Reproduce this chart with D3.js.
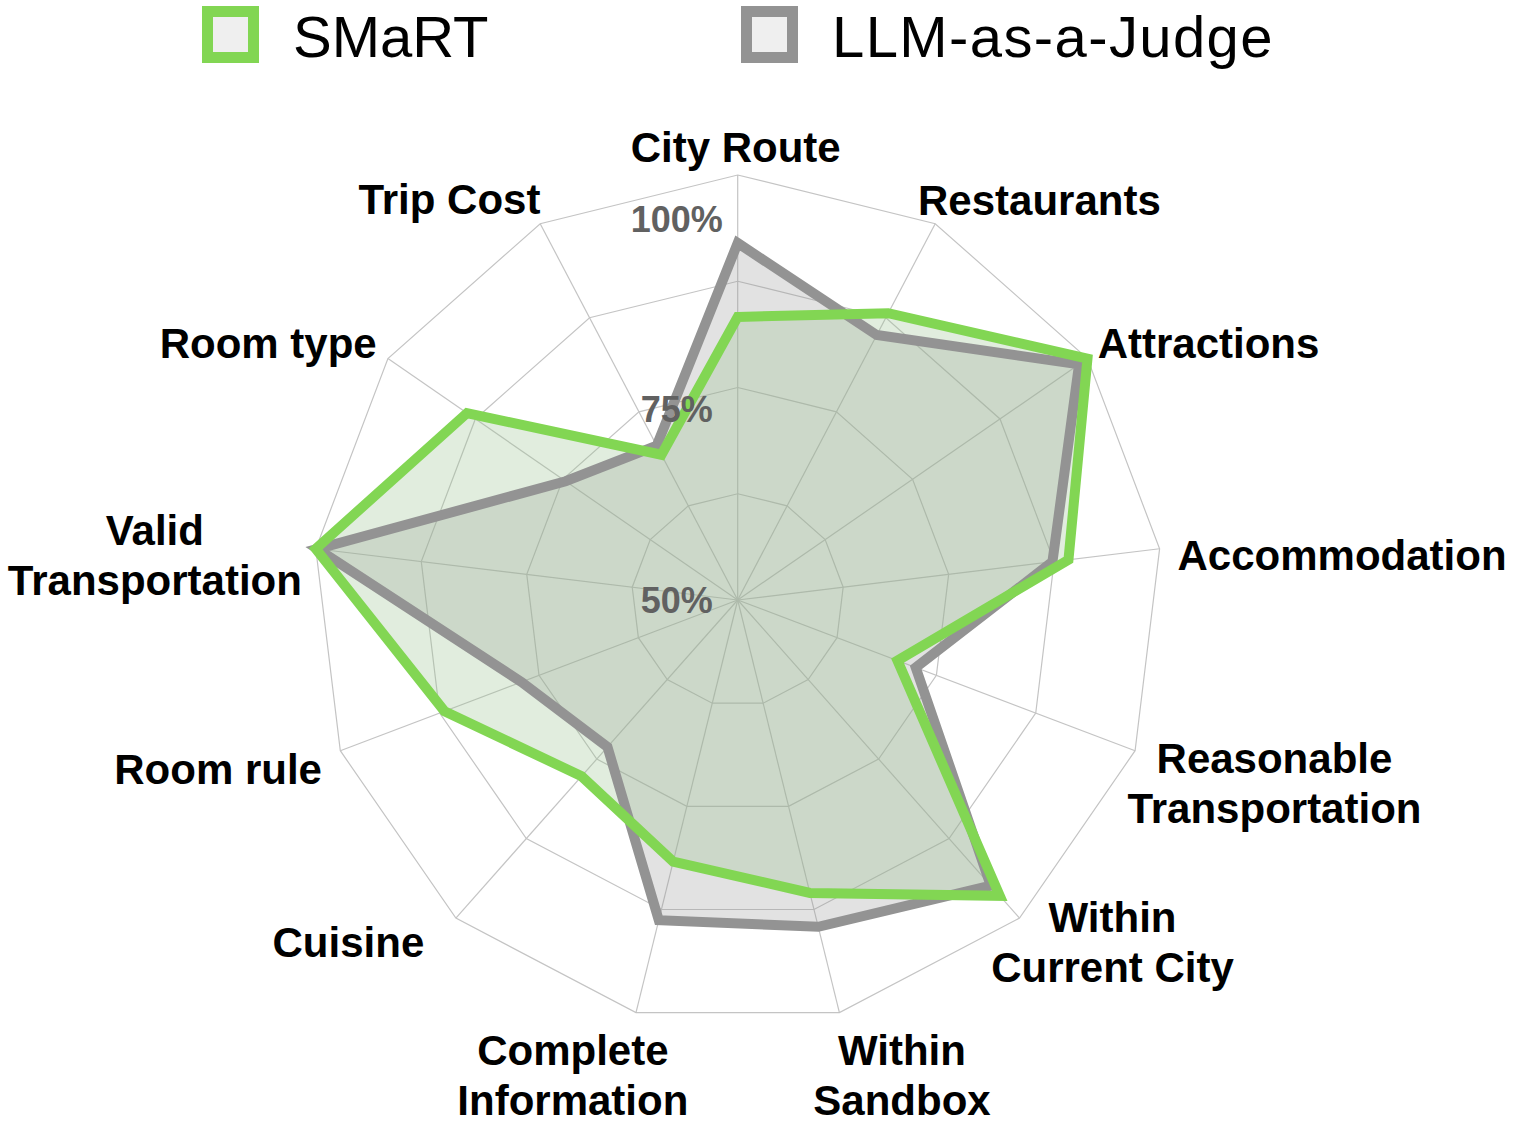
<!DOCTYPE html>
<html>
<head>
<meta charset="utf-8">
<script src="https://cdn.jsdelivr.net/npm/d3@7"></script>
<style>
  body { margin: 0; background: #fff; }
  text { font-family: "Liberation Sans", Arial, Helvetica, sans-serif; }
</style>
</head>
<body>
<div id="radar"></div>
<script>
// Radar chart: SMaRT vs LLM-as-a-Judge

// Data
var axisLabels = ["City Route", "Restaurants", "Attractions", "Accommodation",
  "Reasonable\nTransportation", "Within\nCurrent City", "Within\nSandbox",
  "Complete\nInformation", "Cuisine", "Room rule", "Valid\nTransportation",
  "Room type", "Trip Cost"];
var smartValues = [83.3, 88.1, 100, 89.2, 70.1, 96.5, 85.5, 81.7, 77.7, 86.9, 100, 88.7, 69.3];
var judgeValues = [92.0, 85.2, 98.8, 87.3, 72.4, 94.9, 89.6, 88.8, 73.1, 77.2, 99.8, 74.6, 70.5];
var seriesNames = ["SMaRT", "LLM-as-a-Judge"];
var ringValues = [62.5, 75, 87.5, 100];
var tickValues = [50, 75, 100];
var tickLabels = ["50%", "75%", "100%"];

// Layout
var width = 1514, height = 1124;
var cx = 737.7, cy = 600, R = 425;
var green = "#82d653", grey = "#939393";
var step = 2 * Math.PI / axisLabels.length;

// small hand nudges for the category labels (dx, dy)
var labelNudge = [[-2, 0], [-2, 1], [2, 0], [8, 10], [-17, 13], [-35, -16], [22, 11],
  [-11, 11], [-25, 3], [-9, 8], [-4, 13], [-3, 0], [-10, 0]];

var svg = d3.select("#radar").append("svg")
  .attr("width", width)
  .attr("height", height);

var r = d3.scaleLinear().domain([50, 100]).range([0, R]);

var g = svg.append("g")
  .attr("transform", "translate(" + cx + "," + cy + ")");

// Grid rings
var ringLine = d3.lineRadial()
  .angle(function(d, i) { return i * step; })
  .radius(function(d) { return r(d); })
  .curve(d3.curveLinearClosed);

g.selectAll(".ring")
  .data(ringValues)
  .enter().append("path")
  .attr("class", "ring")
  .attr("d", function(v) { return ringLine(axisLabels.map(function() { return v; })); })
  .style("fill", "none")
  .style("stroke", "#c4c4c4")
  .style("stroke-width", 1.2);

// Spokes
g.selectAll(".spoke")
  .data(axisLabels)
  .enter().append("line")
  .attr("class", "spoke")
  .attr("x1", 0).attr("y1", 0)
  .attr("x2", function(d, i) { return r(100) * Math.sin(i * step); })
  .attr("y2", function(d, i) { return -r(100) * Math.cos(i * step); })
  .style("stroke", "#c4c4c4")
  .style("stroke-width", 1.2);

// Series
var series = [
  { name: seriesNames[1], values: judgeValues, stroke: grey, fill: "rgba(147,147,147,0.27)" },
  { name: seriesNames[0], values: smartValues, stroke: green, fill: "rgba(150,192,140,0.29)" }
];

g.selectAll(".area")
  .data(series)
  .enter().append("path")
  .attr("class", "area")
  .attr("d", function(s) { return ringLine(s.values); })
  .style("fill", function(s) { return s.fill; })
  .style("stroke", "none");

g.selectAll(".outline")
  .data(series)
  .enter().append("path")
  .attr("class", "outline")
  .attr("d", function(s) { return ringLine(s.values); })
  .style("fill", "none")
  .style("stroke", function(s) { return s.stroke; })
  .style("stroke-width", 10)
  .style("stroke-linejoin", "miter")
  .style("stroke-miterlimit", 8);

// Radial tick labels
g.selectAll(".tick")
  .data(tickValues)
  .enter().append("text")
  .attr("class", "tick")
  .attr("x", -61)
  .attr("y", function(v) { return -0.897 * r(v) + 13; })
  .style("text-anchor", "middle")
  .style("font-size", "36px")
  .style("font-weight", "bold")
  .style("fill", "#616161")
  .text(function(d, i) { return tickLabels[i]; });

// Category labels
var lineH = 50;
var labels = g.selectAll(".axisLabel")
  .data(axisLabels)
  .enter().append("text")
  .attr("class", "axisLabel")
  .style("font-size", "42px")
  .style("font-weight", "bold")
  .style("fill", "#000")
  .style("text-anchor", "middle");

labels.each(function(d, i) {
  var el = d3.select(this);
  var lines = d.split("\n");
  lines.forEach(function(t) { el.append("tspan").text(t); });
  var w = d3.max(el.selectAll("tspan").nodes(), function(n) { return n.getComputedTextLength(); });
  var h = 36 + lineH * (lines.length - 1);
  var a = i * step, s = Math.sin(a), c = Math.cos(a);
  var kx = Math.max(-1, Math.min(1, 1.8 * s));
  var px = (R + 10) * s, py = -(R + 10) * c;
  var x = px + kx * w / 2 + labelNudge[i][0];
  var y = py - c * h / 2 + labelNudge[i][1];
  el.selectAll("tspan")
    .attr("x", x)
    .attr("y", function(t, j) { return y + 15 + (j - (lines.length - 1) / 2) * lineH; });
});

// Legend
var legend = svg.append("g").attr("class", "legend")
  .selectAll("g")
  .data([{ name: seriesNames[0], color: green }, { name: seriesNames[1], color: grey }])
  .enter().append("g")
  .attr("transform", function(d, i) { return "translate(" + (202 + i * 539) + ",6)"; });

legend.append("rect")
  .attr("x", 5.5).attr("y", 5.5)
  .attr("width", 46).attr("height", 46)
  .style("fill", "#efefef")
  .style("stroke", function(d) { return d.color; })
  .style("stroke-width", 11);

legend.append("text")
  .attr("x", 91)
  .attr("y", 51)
  .style("font-size", "58px")
  .style("fill", "#000")
  .style("letter-spacing", function(d, i) { return i ? "1.4px" : "0px"; })
  .text(function(d) { return d.name; });
</script>
</body>
</html>
